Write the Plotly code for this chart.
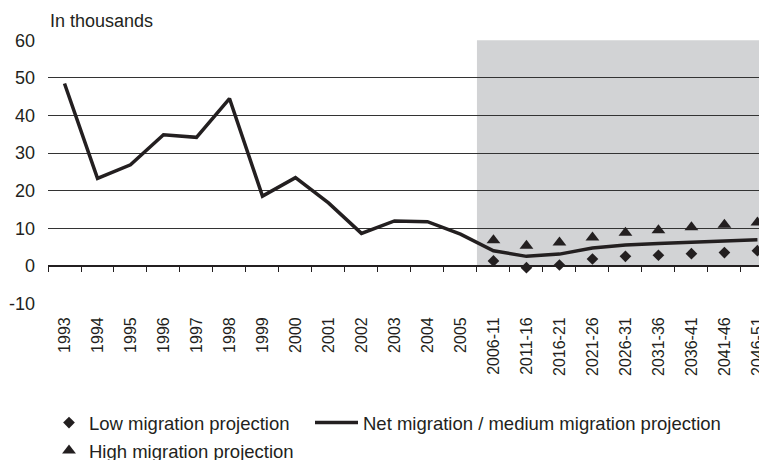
import plotly.graph_objects as go

# categories (years, then 5-year projection periods)
periods = ["1993", "1994", "1995", "1996", "1997", "1998", "1999", "2000",
           "2001", "2002", "2003", "2004", "2005",
           "2006-11", "2011-16", "2016-21", "2021-26", "2026-31",
           "2031-36", "2036-41", "2041-46", "2046-51"]
proj_periods = periods[13:]

# net migration / medium projection, in thousands
net = [48.5, 23.3, 26.9, 34.9, 34.2, 44.5, 18.6, 23.5, 16.8, 8.7, 12.0,
       11.8, 8.5, 4.1, 2.6, 3.2, 4.8, 5.6, 6.0, 6.3, 6.6, 7.0]
low = [1.4, -0.4, 0.3, 1.9, 2.6, 2.9, 3.3, 3.6, 4.1]
high = [6.9, 5.4, 6.3, 7.6, 8.9, 9.5, 10.3, 11.0, 11.6]

y_ticks = [-10, 0, 10, 20, 30, 40, 50, 60]
y_tick_labels = ["-10", "0", "10", "20", "30", "40", "50", "60"]

ink = "#231f20"
font_fam = "Liberation Sans, Arial, sans-serif"
y_lo, y_hi = -10.05, 60.05
# page body has an 8px margin, so the figure is a bit smaller than the window
W, H = 759, 452

fig = go.Figure()

fig.add_trace(go.Scatter(
    x=proj_periods, y=low, mode="markers", name="Low migration projection",
    marker=dict(symbol="diamond", size=9, color=ink), legend="legend"))

fig.add_trace(go.Scatter(
    x=periods, y=net, mode="lines",
    name="Net migration / medium migration projection",
    line=dict(color=ink, width=3.5), legend="legend3"))

fig.add_trace(go.Scatter(
    x=proj_periods, y=high, mode="markers", name="High migration projection",
    marker=dict(symbol="triangle-up", size=12, color=ink), legend="legend2"))

# shaded projection period
fig.add_shape(type="rect", xref="x", yref="y", x0=12.5, x1=21.5, y0=0, y1=60,
              fillcolor="#d2d3d5", line_width=0, layer="below")

fig.add_annotation(text="In thousands", xref="paper", yref="paper", x=0, y=1,
                   xanchor="left", yanchor="bottom", yshift=7, showarrow=False,
                   font=dict(size=18, color=ink, family=font_fam))

legend_style = dict(orientation="h", xref="container", yref="container",
                    xanchor="left", yanchor="middle",
                    font=dict(size=18.5), bgcolor="rgba(0,0,0,0)")

fig.update_layout(
    width=W, height=H,
    margin=dict(l=40, r=0, t=32, b=156),
    plot_bgcolor="white", paper_bgcolor="white",
    font=dict(family=font_fam, color=ink, size=18),
    showlegend=True,
    xaxis=dict(type="category", categoryorder="array", categoryarray=periods,
               range=[-0.5, 21.29], anchor="free",
               position=(0 - y_lo) / (y_hi - y_lo), automargin=False,
               showline=True, linecolor=ink, linewidth=1.5,
               ticks="outside", ticklen=5, tickcolor=ink, tickwidth=1.2,
               tickson="boundaries", tickangle=-90, ticklabelstandoff=44,
               showgrid=False, tickfont=dict(size=16)),
    yaxis=dict(range=[y_lo, y_hi], tickmode="array", tickvals=y_ticks,
               ticktext=y_tick_labels, showgrid=True,
               gridcolor="#333333", gridwidth=1.4, zeroline=False,
               showline=False, ticks="", automargin=False,
               ticklabelstandoff=12, tickfont=dict(size=18)),
    legend=dict(legend_style, x=41 / W, y=(H - 415) / H),
    legend3=dict(legend_style, x=302 / W, y=(H - 415) / H, itemwidth=43),
    legend2=dict(legend_style, x=41 / W, y=(H - 443) / H),
)

fig.write_html("out.html")
